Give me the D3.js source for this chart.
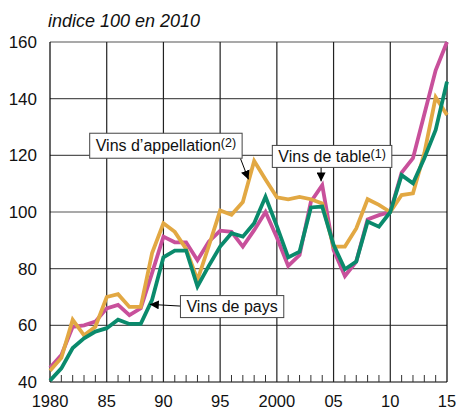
<!DOCTYPE html>
<html><head><meta charset="utf-8">
<script src="https://cdn.jsdelivr.net/npm/d3@7"></script>
<style>
body{margin:0;background:#fff;}
svg{display:block;font-family:"Liberation Sans",Arial,sans-serif;}
</style></head>
<body><svg id="c" width="456" height="412"></svg>
<script>
const years = d3.range(1980, 2016);
const appellation = [44,48.5,62,56.5,59.5,70,71,66.5,66.5,85.5,96,93,87,76,88,100.5,99,103.5,118,111.5,105.2,104.5,105.3,104.5,103,87.8,87.8,94.2,104.5,102.5,100,106,106.6,120.7,140.5,134.2];
const table = [45,49.5,59.5,60,61.3,66,67.2,63.6,66,78.5,91.3,89.3,89.3,83,89.5,93.4,93,87.8,93.6,100,91,81,84.8,103.6,109.5,86.6,77.4,82.5,97.4,98.9,100,113.9,119,134.5,150,160];
const pays = [40.5,44.8,52,55.4,57.8,59,62,60.5,60.5,69,84,86.4,86.4,73.7,81,87.8,92.5,91.3,96,105.4,95,84,86,101.6,101.9,88.4,79.8,82.5,96.6,94.8,100,113,110.1,119,129,146];
const yTicks = [40,60,80,100,120,140,160];
const xMajor = [1980,1985,1990,1995,2000,2005,2010,2015];
const xLabels = ["1980","85","90","95","2000","05","10","15"];

const svg = d3.select("#c");
const x = d3.scaleLinear().domain([1980,2015]).range([50,447]);
const y = d3.scaleLinear().domain([40,160]).range([382,42]);

// horizontal grid
svg.append("g").selectAll("line").data(yTicks).join("line")
  .attr("x1",x(1980)).attr("x2",x(2015))
  .attr("y1",d=>y(d)).attr("y2",d=>y(d))
  .attr("stroke",d=>d===40?"#000":"#555").attr("stroke-width",1.2);
// vertical grid
svg.append("g").selectAll("line").data(xMajor).join("line")
  .attr("x1",d=>x(d)).attr("x2",d=>x(d))
  .attr("y1",y(40)).attr("y2",y(160))
  .attr("stroke",d=>(d===1980||d===2015)?"#000":"#222").attr("stroke-width",1.2);
// minor ticks
svg.append("g").selectAll("line").data(years.filter(d=>d%5!==0)).join("line")
  .attr("x1",d=>x(d)).attr("x2",d=>x(d))
  .attr("y1",y(40)).attr("y2",y(40)-7)
  .attr("stroke","#333").attr("stroke-width",1);

// y labels
svg.append("g").selectAll("text").data(yTicks).join("text")
  .attr("x",37).attr("y",d=>y(d)).attr("dy","0.36em")
  .attr("text-anchor","end").attr("font-size",17).attr("fill","#111").text(d=>d);
// x labels
svg.append("g").selectAll("text").data(xMajor).join("text")
  .attr("x",d=>x(d)).attr("y",407)
  .attr("text-anchor","middle").attr("font-size",16.5).attr("fill","#111").text((d,i)=>xLabels[i]);
// title
svg.append("text").attr("x",48).attr("y",27).attr("font-size",18)
  .attr("font-style","italic").attr("fill","#111").text("indice 100 en 2010");

const line = d3.line().x((d,i)=>x(years[i])).y(d=>y(d));
const series = [
  {v:table,c:"#c8509b"},
  {v:appellation,c:"#e2a843"},
  {v:pays,c:"#0a8a6c"}
];
svg.append("g").selectAll("path").data(series).join("path")
  .attr("d",d=>line(d.v)).attr("fill","none").attr("stroke",d=>d.c)
  .attr("stroke-width",3.8).attr("stroke-linejoin","miter").attr("stroke-linecap","butt");

// arrow marker
svg.append("defs").append("marker").attr("id","ah").attr("viewBox","0 0 10 10")
  .attr("refX",10).attr("refY",5).attr("markerWidth",9).attr("markerHeight",9)
  .attr("orient","auto-start-reverse").attr("markerUnits","userSpaceOnUse")
  .append("path").attr("d","M0,0 L10,5 L0,10 z").attr("fill","#000");

const annots = [
  {t:"Vins d\u2019appellation", s:"(2)", bx:1983.5, by:127.8, h:25, ax0:1996.8, ay0:118.8, ax1:1997.5, ay1:111.5},
  {t:"Vins de table", s:"(1)", bx:1999.6, by:123.5, h:22, ax0:2003.9, ay0:115.8, ax1:2003.9, ay1:110.8},
  {t:"Vins de pays", s:"", bx:1991.5, by:70.5, h:22, ax0:1991.5, ay0:66.8, ax1:1988.8, ay1:67.4}
];
annots.forEach(a=>{
  const g = svg.append("g");
  g.append("line").attr("x1",x(a.ax0)).attr("y1",y(a.ay0)).attr("x2",x(a.ax1)).attr("y2",y(a.ay1))
    .attr("stroke","#000").attr("stroke-width",1).attr("marker-end","url(#ah)");
  const rect = g.append("rect");
  const tx = g.append("text").attr("x",x(a.bx)+6).attr("y",y(a.by)+a.h/2+5.5).attr("font-size",16).attr("fill","#111");
  tx.append("tspan").text(a.t);
  if(a.s) tx.append("tspan").attr("font-size",12.5).attr("dy",-4).text(a.s);
  const bb = tx.node().getBBox();
  rect.attr("x",x(a.bx)).attr("y",y(a.by)).attr("width",bb.width+12).attr("height",a.h)
    .attr("fill","#fff").attr("stroke","#444").attr("stroke-width",1);
});
</script></body></html>
